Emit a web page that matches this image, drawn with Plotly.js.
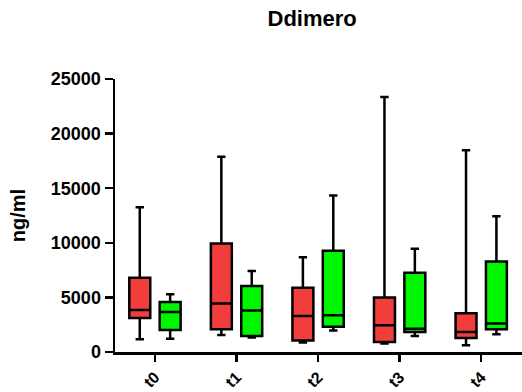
<!DOCTYPE html>
<html>
<head>
<meta charset="utf-8">
<script src="https://cdn.plot.ly/plotly-3.0.1.min.js"></script>
<style>html,body{margin:0;padding:0;background:#fff;}#chart{width:522px;height:392px;}</style>
</head>
<body>
<div id="chart"></div>
<script>
var categories = ['t0', 't1', 't2', 't3', 't4'];

var redMin    = [1160, 1560,  880,  770,  610];
var redQ1     = [3110, 2080, 1050,  910, 1280];
var redMedian = [3840, 4450, 3290, 2440, 1830];
var redQ3     = [6800, 9940, 5890, 5000, 3540];
var redMax    = [13260, 17870, 8670, 23350, 18470];

var greenMin    = [1220, 1320, 1980, 1460, 1620];
var greenQ1     = [2010, 1460, 2320, 1830, 2080];
var greenMedian = [3660, 3790, 3360, 2140, 2620];
var greenQ3     = [4570, 6040, 9270, 7260, 8290];
var greenMax    = [5280, 7410, 14330, 9460, 12440];

var yTicks = [0, 5000, 10000, 15000, 20000, 25000];

var font = {family: 'Liberation Sans, Arial, sans-serif', color: '#000', weight: 700};

function boxTrace(name, mn, q1, med, q3, mx, color) {
  return {
    type: 'box', name: name, x: categories,
    lowerfence: mn, q1: q1, median: med, q3: q3, upperfence: mx,
    boxpoints: false, fillcolor: color,
    line: {color: '#000', width: 2.5},
    whiskerwidth: 0.4, hoverinfo: 'skip'
  };
}

var data = [
  boxTrace('A', redMin, redQ1, redMedian, redQ3, redMax, '#F23D3D'),
  boxTrace('B', greenMin, greenQ1, greenMedian, greenQ3, greenMax, '#00F500')
];

var layout = {
  width: 522, height: 392,
  margin: {l: 115, r: 0, t: 79, b: 40},
  paper_bgcolor: '#fff', plot_bgcolor: '#fff',
  showlegend: false,
  boxmode: 'group', boxgap: 0.255, boxgroupgap: 0.31,
  title: {text: 'Ddimero', x: 0.598, xanchor: 'center', y: 0.953, yanchor: 'middle',
          font: Object.assign({}, font, {size: 22})},
  xaxis: {
    type: 'category', range: [-0.49, 4.5],
    showline: true, linecolor: '#000', linewidth: 2.5,
    ticks: 'outside', ticklen: 7, tickwidth: 2.5, tickcolor: '#000',
    tickangle: -45, showgrid: false, zeroline: false,
    tickfont: Object.assign({}, font, {size: 16})
  },
  yaxis: {
    range: [0, 25000], tickvals: yTicks, ticktext: yTicks.map(String),
    showline: true, linecolor: '#000', linewidth: 2.5,
    ticks: 'outside', ticklen: 8, tickwidth: 2.5, tickcolor: '#000',
    showgrid: false, zeroline: false,
    tickfont: Object.assign({}, font, {size: 18}),
    title: {text: 'ng/ml', standoff: 20, font: Object.assign({}, font, {size: 20})}
  }
};

Plotly.newPlot('chart', data, layout, {displayModeBar: false, staticPlot: true});
</script>
</body>
</html>
